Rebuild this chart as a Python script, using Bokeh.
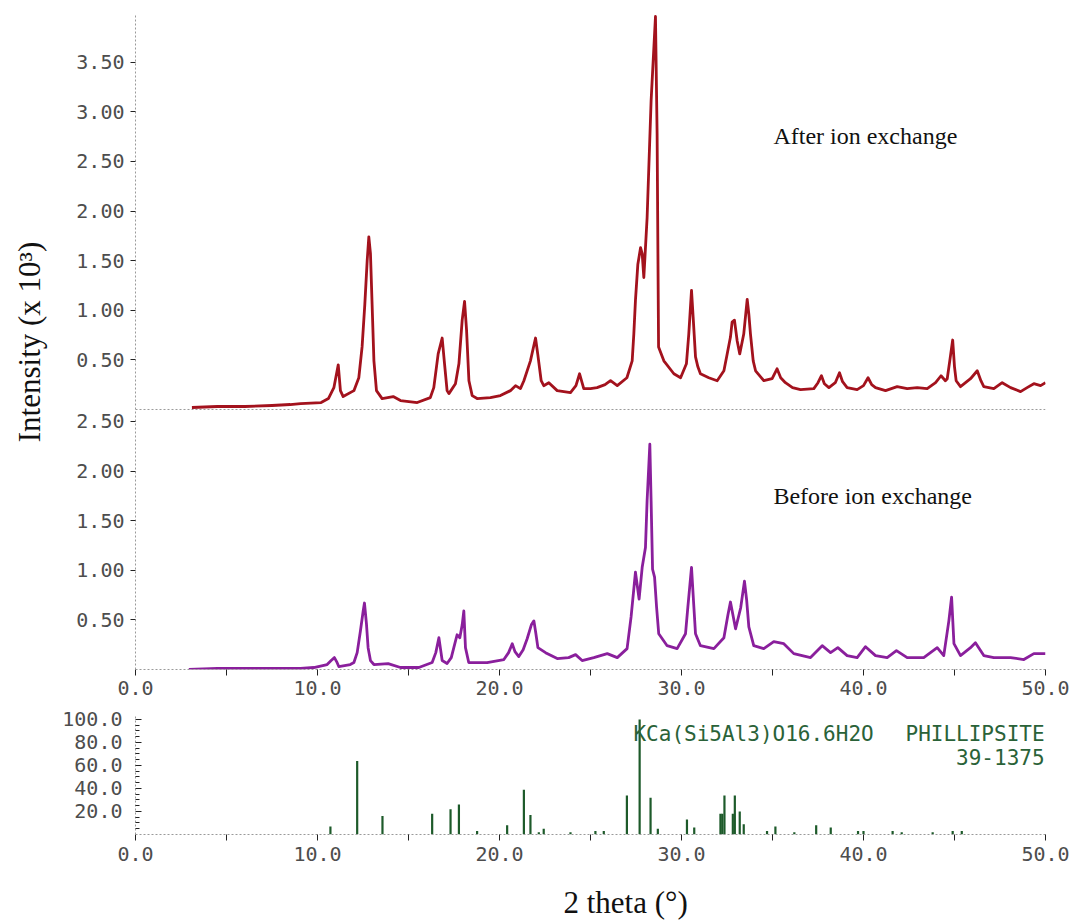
from bokeh.plotting import figure
from bokeh.models import Range1d, FixedTicker, NumeralTickFormatter, Span, Label, Title
from bokeh.layouts import column
from bokeh.embed import file_html
from bokeh.resources import INLINE

# ---------------- data ----------------
AFTER_X = [3.1, 4.5, 6.0, 7.5, 8.5, 9.07, 10.2, 10.6, 10.9, 11.14,
           11.26, 11.41, 12.0, 12.27, 12.45, 12.6, 12.73, 12.82, 12.91, 13.0,
           13.1, 13.24, 13.55, 14.16, 14.56, 15.48, 16.2, 16.39, 16.63, 16.85,
           16.98, 17.12, 17.22, 17.58, 17.77, 17.95, 18.08, 18.19, 18.32, 18.5,
           18.77, 19.5, 20.05, 20.6, 20.88, 21.15, 21.34, 21.7, 21.98, 22.1,
           22.29, 22.43, 22.71, 23.17, 23.9, 24.2, 24.4, 24.63, 25.0, 25.36,
           25.8, 26.1, 26.47, 27.0, 27.29, 27.38, 27.47, 27.6, 27.75, 27.84,
           27.93, 28.11, 28.33, 28.57, 28.66, 28.74, 29.03, 29.58, 29.95, 30.27,
           30.4, 30.55, 30.64, 30.77, 30.9, 31.04, 31.5, 31.96, 32.33, 32.51,
           32.69, 32.78, 32.91, 33.06, 33.2, 33.42, 33.61, 33.7, 33.79, 33.94,
           34.07, 34.52, 34.98, 35.25, 35.45, 35.71, 36.1, 36.54, 37.27, 37.5,
           37.69, 37.85, 38.1, 38.45, 38.68, 38.85, 39.1, 39.65, 40.0, 40.25,
           40.45, 40.66, 41.21, 41.85, 42.4, 42.95, 43.5, 43.96, 44.26, 44.5,
           44.6, 44.74, 44.9, 45.0, 45.09, 45.33, 45.88, 46.25, 46.45, 46.61,
           47.16, 47.62, 48.08, 48.63, 48.99, 49.36, 49.73, 50.0]
AFTER_Y = [0.02, 0.03, 0.03, 0.04, 0.05, 0.06, 0.07, 0.11, 0.22, 0.45,
           0.19, 0.13, 0.19, 0.32, 0.63, 1.06, 1.50, 1.74, 1.57, 1.06,
           0.49, 0.19, 0.11, 0.13, 0.09, 0.07, 0.12, 0.22, 0.56, 0.72,
           0.46, 0.19, 0.16, 0.26, 0.46, 0.90, 1.09, 0.80, 0.29, 0.14,
           0.11, 0.12, 0.14, 0.19, 0.24, 0.21, 0.29, 0.49, 0.72, 0.56,
           0.29, 0.24, 0.27, 0.19, 0.17, 0.24, 0.36, 0.21, 0.21, 0.22,
           0.25, 0.29, 0.24, 0.32, 0.49, 0.76, 1.10, 1.46, 1.63, 1.57,
           1.33, 1.93, 3.11, 3.96, 2.77, 0.63, 0.49, 0.36, 0.32, 0.46,
           0.76, 1.20, 0.93, 0.53, 0.43, 0.36, 0.32, 0.29, 0.39, 0.56,
           0.73, 0.88, 0.90, 0.69, 0.56, 0.76, 1.11, 0.96, 0.76, 0.49,
           0.39, 0.29, 0.31, 0.41, 0.32, 0.27, 0.22, 0.20, 0.21, 0.27,
           0.34, 0.26, 0.22, 0.27, 0.37, 0.28, 0.22, 0.20, 0.24, 0.32,
           0.25, 0.22, 0.19, 0.23, 0.21, 0.22, 0.21, 0.27, 0.34, 0.29,
           0.31, 0.49, 0.70, 0.43, 0.29, 0.23, 0.31, 0.39, 0.29, 0.23,
           0.21, 0.27, 0.22, 0.18, 0.22, 0.26, 0.24, 0.27]

BEFORE_X = [2.93, 4.5, 6.5, 8.0, 9.07, 9.8, 10.53, 10.75, 10.93, 11.05,
            11.17, 11.8, 12.0, 12.18, 12.36, 12.51, 12.58, 12.69, 12.78, 12.91,
            13.1, 13.88, 14.56, 15.57, 16.3, 16.5, 16.67, 16.78, 16.85, 17.12,
            17.35, 17.49, 17.67, 17.82, 17.95, 18.04, 18.13, 18.31, 19.32, 20.24,
            20.5, 20.7, 20.85, 21.06, 21.3, 21.52, 21.75, 21.89, 22.0, 22.11,
            22.53, 23.17, 23.8, 24.18, 24.54, 25.18, 25.92, 26.47, 27.01, 27.23,
            27.47, 27.67, 27.84, 28.02, 28.11, 28.26, 28.33, 28.41, 28.52, 28.63,
            28.75, 29.21, 29.76, 30.22, 30.35, 30.55, 30.68, 30.77, 31.04, 31.78,
            32.33, 32.55, 32.69, 32.97, 33.25, 33.46, 33.58, 33.7, 33.97, 34.52,
            35.07, 35.62, 36.17, 37.09, 37.73, 38.19, 38.59, 39.1, 39.65, 40.11,
            40.66, 41.3, 41.81, 42.4, 43.31, 44.05, 44.41, 44.69, 44.84, 44.97,
            45.33, 45.88, 46.15, 46.61, 47.16, 48.08, 48.81, 49.36, 50.0]
BEFORE_Y = [0.00, 0.01, 0.01, 0.01, 0.01, 0.02, 0.05, 0.09, 0.12, 0.08,
            0.03, 0.05, 0.07, 0.17, 0.39, 0.59, 0.67, 0.46, 0.22, 0.09,
            0.05, 0.06, 0.02, 0.02, 0.07, 0.17, 0.32, 0.18, 0.09, 0.06,
            0.12, 0.22, 0.35, 0.32, 0.45, 0.59, 0.22, 0.07, 0.07, 0.10,
            0.17, 0.26, 0.18, 0.13, 0.20, 0.31, 0.45, 0.49, 0.36, 0.22,
            0.17, 0.11, 0.12, 0.15, 0.09, 0.12, 0.16, 0.12, 0.21, 0.53,
            0.98, 0.71, 1.03, 1.23, 1.70, 2.27, 1.70, 1.01, 0.93, 0.63,
            0.36, 0.24, 0.21, 0.36, 0.63, 1.03, 0.63, 0.36, 0.24, 0.21,
            0.32, 0.55, 0.68, 0.41, 0.62, 0.89, 0.70, 0.43, 0.24, 0.21,
            0.28, 0.26, 0.16, 0.12, 0.24, 0.17, 0.22, 0.14, 0.12, 0.23,
            0.14, 0.12, 0.19, 0.12, 0.12, 0.22, 0.14, 0.49, 0.73, 0.26,
            0.14, 0.22, 0.27, 0.14, 0.12, 0.12, 0.10, 0.16, 0.16]

STICK_X = [10.71, 12.18, 13.57, 16.3, 17.31, 17.77, 18.77, 20.42, 21.34, 21.7,
           22.16, 22.43, 23.9, 25.27, 25.73, 27.0, 27.7, 28.3, 28.7, 30.3,
           30.7, 32.14, 32.24, 32.36, 32.82, 32.93, 33.2, 33.42, 34.7, 35.16,
           36.2, 37.4, 38.2, 39.7, 40.0, 41.6, 42.1, 43.8, 44.9, 45.4]
STICK_H = [7, 64, 16, 18, 22, 26, 3, 8, 39, 17,
           2, 5, 2, 3, 3, 34, 100, 32, 5, 13,
           6, 18, 18, 34, 18, 34, 20, 9, 3, 7,
           2, 8, 6, 3, 3, 3, 2, 2, 3, 3]

X_MAJOR = [0, 10, 20, 30, 40, 50]
X_MINOR = [5, 15, 25, 35, 45]
BEFORE_TICKS = [0.5, 1.0, 1.5, 2.0, 2.5]
AFTER_TICKS = [0.5, 1.0, 1.5, 2.0, 2.5, 3.0, 3.5]
REF_TICKS = [20, 40, 60, 80, 100]
REF_MINOR = [5, 10, 15, 25, 30, 35, 45, 50, 55, 65, 70, 75, 85, 90, 95]

# ---------------- style ----------------
RED = "#a3121d"
PURPLE = "#8a1f9c"
GREEN = "#1d5a2a"
TXT_GREEN = "#2a6238"
TICK_FONT = "DejaVu Sans Mono"
SERIF = "Liberation Serif"
AX_GRAY = "#9a9a9a"

OFFSET = 2.62      # where the "after" panel's zero sits on the shared frame
FULL = 6.6         # total height of the shared frame in intensity units


def style_axis(ax):
    ax.axis_line_color = AX_GRAY
    ax.axis_line_dash = "2 2"
    ax.axis_line_width = 1
    ax.major_tick_line_color = "#222222"
    ax.minor_tick_line_color = "#222222"
    ax.major_label_text_font = TICK_FONT
    ax.major_label_text_font_size = "20px"
    ax.major_label_text_color = "#4d4d4d"


# ---------------- upper figure: after + before ----------------
p1 = figure(width=1083, height=705, x_range=Range1d(0, 50), y_range=Range1d(0, FULL),
            output_backend="svg", toolbar_location=None,
            min_border_left=135, min_border_right=38, min_border_top=14, min_border_bottom=36)
p1.extra_y_ranges = {"after": Range1d(-OFFSET, FULL - OFFSET)}
p1.grid.visible = False
p1.outline_line_color = None

p1.line(AFTER_X, AFTER_Y, y_range_name="after", line_color=RED, line_width=2.8,
        line_join="round")
p1.line(BEFORE_X, BEFORE_Y, line_color=PURPLE, line_width=2.8, line_join="round")
p1.add_layout(Span(location=0, dimension="width", y_range_name="after",
                   line_color=AX_GRAY, line_dash="2 2", line_width=1))

xa = p1.xaxis[0]
style_axis(xa)
xa.ticker = FixedTicker(ticks=X_MAJOR, minor_ticks=X_MINOR)
xa.formatter = NumeralTickFormatter(format="0.0")
xa.major_tick_in = 0
xa.major_tick_out = 6
xa.minor_tick_in = 0
xa.minor_tick_out = 6
xa.major_label_standoff = 5

ya = p1.yaxis[0]
style_axis(ya)
y_ticks = list(BEFORE_TICKS) + [OFFSET + v for v in AFTER_TICKS]
overrides = {v: f"{v:.2f}" for v in BEFORE_TICKS}
overrides.update({OFFSET + v: f"{v:.2f}" for v in AFTER_TICKS})
ya.ticker = FixedTicker(ticks=y_ticks, minor_ticks=[])
ya.major_label_overrides = overrides
ya.major_tick_in = 0
ya.major_tick_out = 5
ya.minor_tick_out = 0
ya.major_label_standoff = 6
ya.axis_label = "Intensity (x 10\u00b3)"
ya.axis_label_text_font = SERIF
ya.axis_label_text_font_size = "31px"
ya.axis_label_text_font_style = "normal"
ya.axis_label_text_color = "#111111"
ya.axis_label_standoff = 26

p1.add_layout(Label(x=35.05, y=2.76, y_range_name="after", text="After ion exchange",
                    text_font=SERIF, text_font_size="24px", text_color="#111111",
                    text_baseline="middle", text_align="left"))
p1.add_layout(Label(x=35.05, y=1.75, text="Before ion exchange",
                    text_font=SERIF, text_font_size="24px", text_color="#111111",
                    text_baseline="middle", text_align="left"))

# ---------------- lower figure: reference pattern ----------------
p2 = figure(width=1083, height=217, x_range=Range1d(0, 50), y_range=Range1d(0, 102.6),
            output_backend="svg", toolbar_location=None,
            min_border_left=135, min_border_right=38, min_border_top=11, min_border_bottom=88)
p2.grid.visible = False
p2.outline_line_color = None
p2.segment(x0=STICK_X, y0=[0] * len(STICK_X), x1=STICK_X, y1=STICK_H,
           line_color=GREEN, line_width=2.2)

xb = p2.xaxis[0]
style_axis(xb)
xb.ticker = FixedTicker(ticks=X_MAJOR, minor_ticks=X_MINOR)
xb.formatter = NumeralTickFormatter(format="0.0")
xb.major_tick_in = 0
xb.major_tick_out = 6
xb.minor_tick_in = 0
xb.minor_tick_out = 6
xb.major_label_standoff = 6

# a blank spacer panel pushes the x title down to the bottom edge
p2.add_layout(Title(text=" ", text_font_size="2px", standoff=15), "below")
p2.add_layout(Title(text="2 theta (\u00b0)", align="left", offset=428, standoff=0,
                    vertical_align="bottom",
                    text_font=SERIF, text_font_size="31px", text_font_style="normal",
                    text_color="#111111"), "below")

yb = p2.yaxis[0]
style_axis(yb)
yb.ticker = FixedTicker(ticks=REF_TICKS, minor_ticks=REF_MINOR)
yb.formatter = NumeralTickFormatter(format="0.0")
yb.major_tick_in = 6
yb.major_tick_out = 0
yb.minor_tick_in = 4
yb.minor_tick_out = 0
yb.major_label_standoff = 13

p2.add_layout(Label(x=27.36, y=87.8, text="KCa(Si5Al3)O16.6H2O",
                    text_font=TICK_FONT, text_font_size="21px", text_color=TXT_GREEN,
                    text_baseline="middle", text_align="left"))
p2.add_layout(Label(x=49.95, y=87.8, text="PHILLIPSITE",
                    text_font=TICK_FONT, text_font_size="21px", text_color=TXT_GREEN,
                    text_baseline="middle", text_align="right"))
p2.add_layout(Label(x=49.95, y=67.0, text="39-1375",
                    text_font=TICK_FONT, text_font_size="21px", text_color=TXT_GREEN,
                    text_baseline="middle", text_align="right"))

layout = column(p1, p2, spacing=0)
open("out.html", "w").write(file_html(layout, INLINE))
